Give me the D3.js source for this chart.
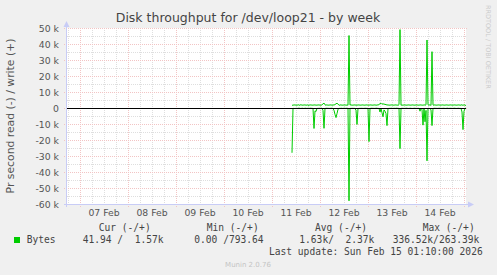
<!DOCTYPE html>
<html>
<head>
<meta charset="utf-8">
<script src="https://cdn.jsdelivr.net/npm/d3@7"></script>
<style>
  body { margin: 0; background: #f0f0f0; }
  svg { display: block; }
  text { font-family: "DejaVu Sans", sans-serif; }
  .mono { font-family: "DejaVu Sans Mono", monospace; white-space: pre; }
</style>
</head>
<body>
<div id="root"></div>
<script>
// samples every 30 min, from Feb 11 10:00 to Feb 15 01:00
const startTime = Date.UTC(2026, 1, 11, 10, 0);
const stepMs = 30 * 60 * 1000;

// write bytes per second (+)
const writeVals = [
  1900,1600,2100,1700,2000,1600,2100,1800,1700,2200,1600,2000,1700,2100,1600,2000,1800,1600,2100,1700,2000,1600,2100,1700,2000,
  1600,2100,1700,2000,1600,2100,2500,3100,2000,1700,2100,1600,2000,1700,2100,1600,2000,1800,2200,2600,3000,2400,1800,1700,2100,
  1600,2000,1700,2100,1600,2000,1700,45300,1800,2100,1600,2000,1700,2100,1600,2000,1700,2100,1600,2000,1700,2100,1600,2000,1700,
  2100,1600,2000,1700,2100,1600,2000,1700,2100,1600,2000,1800,2200,2700,3000,2300,2800,2200,2500,1900,2100,1700,2000,1600,2100,
  1700,2000,1600,2100,1700,2000,1600,2100,49000,1700,2000,1600,2100,1700,2000,1600,2100,1700,2000,1600,2100,1700,2000,1600,2100,
  1700,2000,1600,2100,1700,2000,1600,2100,1700,2000,42500,2000,1700,2100,1600,35200,1900,1700,2100,1600,2000,1700,2100,1600,2000,
  1700,2100,1600,2000,1700,2100,1600,2000,1700,2100,1600,2000,1700,2100,1600,2000,1700,2100,1600,2000,1900,1700,2000,1800,1570
];

// read bytes per second (-)
const readVals = [
  28000,300,200,400,150,300,200,100,250,300,150,200,350,100,200,300,150,250,200,100,300,200,12800,1800,2200,
  200,300,150,250,200,100,1500,12700,300,200,150,250,200,300,100,200,250,1500,4000,6000,3500,800,200,300,150,
  200,300,100,250,200,150,300,58000,200,300,150,250,200,300,1500,10300,400,200,300,150,250,200,300,100,250,
  200,300,21000,300,200,150,250,200,300,100,200,250,300,2500,500,3000,5500,1200,2000,3500,11000,400,200,300,150,
  200,300,150,250,200,100,300,200,25400,300,150,250,200,300,100,200,250,300,150,200,300,250,200,150,300,
  200,300,150,2000,300,800,10700,400,8600,1500,33000,300,200,400,1200,11000,300,200,150,250,200,300,100,250,200,
  300,150,200,250,300,100,200,300,150,250,200,300,100,200,250,300,150,200,300,250,2500,13500,2000,300,42
];

const yTicks = [50000, 40000, 30000, 20000, 10000, 0, -10000, -20000, -30000, -40000, -50000, -60000];
const dayLabels = [7, 8, 9, 10, 11, 12, 13, 14];

const legendHead = ["Cur (-/+)", "Min (-/+)", "Avg (-/+)", "Max (-/+)"];
const legendVals = ["41.94 /  1.57k", " 0.00 /793.64", "1.63k/  2.37k", "336.52k/263.39k"];

const W = 497, H = 275;
const pLeft = 67, pRight = 466, pTop = 28, pBottom = 204;
const green = "#00cc00";

const svg = d3.select("#root").append("svg").attr("width", W).attr("height", H);
svg.append("rect").attr("width", W).attr("height", H).attr("fill", "#f0f0f0");

const x = d3.scaleUtc()
  .domain([new Date(Date.UTC(2026, 1, 6, 17, 30)), new Date(Date.UTC(2026, 1, 15, 1, 0))])
  .range([pLeft, pRight]);
const y = d3.scaleLinear().domain([-60000, 50000]).range([pBottom, pTop]);

svg.append("rect")
  .attr("x", pLeft).attr("y", pTop)
  .attr("width", pRight - pLeft).attr("height", pBottom - pTop)
  .attr("fill", "#ffffff");

// grid
const g = svg.append("g");
const minorX = x.ticks(d3.utcHour.every(6)).filter(d => d.getUTCHours() != 0);
const majorX = x.ticks(d3.utcDay.every(1));
const minorY = d3.range(-55000, 50000, 10000);
const minorCol = "#dedede", majorCol = "#f2c4c4";

g.selectAll(".vmin").data(minorX).enter().append("line")
  .attr("x1", d => Math.round(x(d)) + 0.5).attr("x2", d => Math.round(x(d)) + 0.5)
  .attr("y1", pTop).attr("y2", pBottom + 2)
  .attr("stroke", minorCol).attr("stroke-dasharray", "1,1");
g.selectAll(".hmin").data(minorY).enter().append("line")
  .attr("x1", pLeft).attr("x2", pRight)
  .attr("y1", d => Math.round(y(d)) + 0.5).attr("y2", d => Math.round(y(d)) + 0.5)
  .attr("stroke", minorCol).attr("stroke-dasharray", "1,1");
g.selectAll(".vmaj").data(majorX).enter().append("line")
  .attr("x1", d => Math.round(x(d)) + 0.5).attr("x2", d => Math.round(x(d)) + 0.5)
  .attr("y1", pTop).attr("y2", pBottom + 3)
  .attr("stroke", majorCol).attr("stroke-dasharray", "1,1");
g.selectAll(".hmaj").data(yTicks).enter().append("line")
  .attr("x1", pLeft - 3).attr("x2", pRight + 2)
  .attr("y1", d => Math.round(y(d)) + 0.5).attr("y2", d => Math.round(y(d)) + 0.5)
  .attr("stroke", majorCol).attr("stroke-dasharray", "1,1");

// axes lines with arrows
const axisCol = "#c8ccf6";
svg.append("line").attr("x1", pLeft - 0.5).attr("x2", pLeft - 0.5)
  .attr("y1", pBottom + 3).attr("y2", 22).attr("stroke", axisCol);
svg.append("path").attr("d", `M${pLeft - 3.5},27 L${pLeft - 0.5},21 L${pLeft + 2.5},27 Z`).attr("fill", axisCol);
svg.append("line").attr("x1", pLeft - 3).attr("x2", 471)
  .attr("y1", pBottom + 0.5).attr("y2", pBottom + 0.5).attr("stroke", axisCol);
svg.append("path").attr("d", `M468,${pBottom - 2.5} L474,${pBottom + 0.5} L468,${pBottom + 3.5} Z`).attr("fill", axisCol);

// tick labels
svg.append("g").selectAll("text").data(yTicks).enter().append("text")
  .attr("x", 59).attr("y", d => y(d) + 3.5)
  .attr("text-anchor", "end").attr("font-size", 9.3).attr("fill", "#555")
  .text(d => d == 0 ? "0" : (d / 1000) + " k");

svg.append("g").selectAll("text").data(dayLabels).enter().append("text")
  .attr("x", d => x(new Date(Date.UTC(2026, 1, d, 12))))
  .attr("y", 216).attr("text-anchor", "middle")
  .attr("font-size", 9.3).attr("fill", "#555")
  .text(d => d3.utcFormat("%d %b")(new Date(Date.UTC(2026, 1, d, 12))));

// data lines
const times = writeVals.map((v, i) => new Date(startTime + i * stepMs));
const lineGen = d3.line().x(d => x(d[0])).y(d => y(d[1]));

svg.append("path")
  .datum(readVals.map((v, i) => [times[i], -v]))
  .attr("d", lineGen).attr("fill", "none").attr("stroke", green).attr("stroke-width", 1);
svg.append("path")
  .datum(writeVals.map((v, i) => [times[i], v]))
  .attr("d", lineGen).attr("fill", "none").attr("stroke", green).attr("stroke-width", 1);

// zero line
svg.append("line").attr("x1", pLeft).attr("x2", pRight)
  .attr("y1", Math.round(y(0)) + 0.5).attr("y2", Math.round(y(0)) + 0.5)
  .attr("stroke", "#000");

// titles
svg.append("text").attr("x", 248).attr("y", 22).attr("text-anchor", "middle")
  .attr("font-size", 12.5).attr("fill", "#444")
  .text("Disk throughput for /dev/loop21 - by week");

svg.append("text")
  .attr("transform", "translate(14," + (pTop + pBottom) / 2 + ") rotate(-90)")
  .attr("text-anchor", "middle").attr("font-size", 10.8).attr("fill", "#555")
  .text("Pr second read (-) / write (+)");

svg.append("text")
  .attr("transform", "translate(486,5) rotate(90)")
  .attr("font-size", 6.5).attr("fill", "#cccccc")
  .text("RRDTOOL / TOBI OETIKER");

// legend
const headX = [98.7, 206.7, 315, 422.7];
const valX = [82.7, 188.5, 299.3, 392.7];
svg.append("g").selectAll("text").data(legendHead).enter().append("text")
  .attr("class", "mono").attr("x", (d, i) => headX[i]).attr("y", 231)
  .attr("font-size", 9.6).attr("fill", "#444").text(d => d);

svg.append("rect").attr("x", 14).attr("y", 237).attr("width", 6).attr("height", 6).attr("fill", green);
svg.append("text").attr("class", "mono").attr("x", 26.7).attr("y", 243)
  .attr("font-size", 9.6).attr("fill", "#444").text("Bytes");
svg.append("g").selectAll("text").data(legendVals).enter().append("text")
  .attr("class", "mono").attr("x", (d, i) => valX[i]).attr("y", 243)
  .attr("font-size", 9.6).attr("fill", "#444").text(d => d);

svg.append("text").attr("class", "mono").attr("x", 482.7).attr("y", 255)
  .attr("text-anchor", "end").attr("font-size", 9.6).attr("fill", "#444")
  .text("Last update: Sun Feb 15 01:10:00 2026");

svg.append("text").attr("x", 248).attr("y", 267).attr("text-anchor", "middle")
  .attr("font-size", 7).attr("fill", "#c4c4c4").text("Munin 2.0.76");
</script>
</body>
</html>
